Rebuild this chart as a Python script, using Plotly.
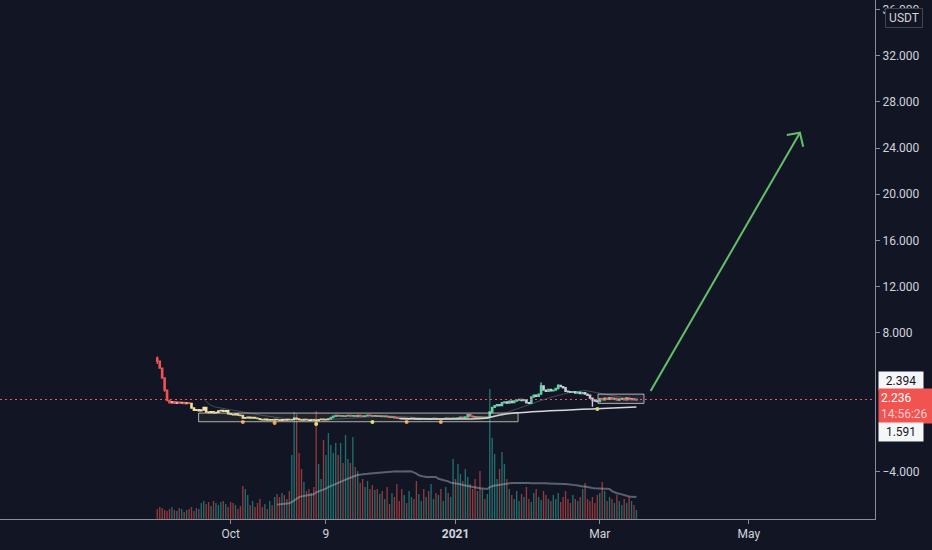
import pandas as pd
import plotly.graph_objects as go

# ---------------- data ----------------
start_date = "2020-09-01"
first_open = 5.80
close = [
    5.55, 4.95, 4.10, 3.05, 2.15, 1.95, 2.05, 1.90, 2.00, 1.92,
    1.98, 1.88, 1.95, 1.90, 1.50, 1.30, 1.35, 1.25, 1.32, 1.55,
    1.15, 1.10, 1.18, 1.08, 1.12, 1.25, 1.28, 1.22, 1.26, 1.00,
    0.95, 0.92, 0.98, 0.88, 0.85, 0.62, 0.66, 0.70, 0.64, 0.68,
    0.62, 0.58, 0.50, 0.48, 0.52, 0.46, 0.49, 0.45, 0.50, 0.47,
    0.44, 0.48, 0.46, 0.50, 0.47, 0.49, 0.62, 0.55, 0.48, 0.46,
    0.50, 0.47, 0.44, 0.48, 0.46, 0.42, 0.49, 0.52, 0.47, 0.50,
    0.55, 0.68, 0.78, 0.85, 0.80, 0.84, 0.78, 0.82, 0.86, 0.80,
    0.83, 0.79, 0.85, 0.81, 0.77, 0.82, 0.88, 0.84, 0.80, 0.83,
    0.78, 0.81, 0.76, 0.80, 0.74, 0.70, 0.72, 0.66, 0.62, 0.60,
    0.57, 0.60, 0.55, 0.58, 0.62, 0.56, 0.52, 0.55, 0.58, 0.54,
    0.57, 0.53, 0.56, 0.60, 0.55, 0.58, 0.54, 0.57, 0.61, 0.56,
    0.59, 0.62, 0.58, 0.64, 0.70, 0.66, 0.72, 0.92, 0.80, 0.74,
    0.70, 0.72, 0.68, 0.71, 0.66, 0.70, 1.15, 1.55, 1.70, 1.78,
    1.72, 1.95, 2.02, 1.92, 2.08, 1.98, 2.10, 2.18, 2.24, 2.15,
    2.22, 1.95, 1.90, 2.45, 2.60, 2.52, 2.70, 3.40, 3.05, 2.95,
    3.10, 2.98, 3.05, 3.20, 3.45, 3.35, 3.25, 2.95, 2.90, 2.85,
    2.92, 2.80, 2.86, 2.75, 2.82, 2.70, 2.60, 2.35, 2.20, 2.10,
    2.05, 2.30, 2.20, 2.35, 2.25, 2.40, 2.28, 2.32, 2.18, 2.26,
    2.30, 2.22, 2.36, 2.24, 2.30, 2.20, 2.236,
]
volume = [
    10, 12, 11, 9, 8, 10, 12, 9, 8, 11, 10, 7, 9, 10, 12, 8, 11, 10,
    16, 18, 15, 17, 13, 18, 16, 14, 17, 18, 15, 12, 17, 16, 14, 10, 13,
    33, 30, 24,
    14, 18, 12, 16, 20, 12, 15, 10, 18, 14, 22, 25,
    22, 26, 24, 20, 28, 64,
    107, 105, 66,
    50, 37, 28, 30, 26, 32, 108,
    55, 40, 79, 64, 86, 74, 66, 76, 64, 76, 56, 84, 60, 56, 82, 52, 48, 36, 40, 32, 38, 30, 34, 29,
    30, 25, 28, 20, 32, 15, 26, 22, 35, 18, 30, 24, 16, 28, 22, 20, 38, 25, 18, 30,
    22, 28, 35, 20, 26, 24, 30, 18, 32, 26, 22, 60,
    40, 55, 45, 38, 50, 42, 35, 30, 40, 28, 48, 30, 20, 25,
    130, 81, 65, 40, 50, 67, 55, 40,
    30, 24, 20, 28, 18, 25, 22, 32, 20, 17, 26, 30, 22, 19, 28, 24, 20,
    18, 24, 20, 26, 17, 22, 28, 20, 16, 24, 20, 18,
    22, 30, 36, 20, 18, 22,
    16, 24, 26, 37,
    28, 18, 22, 20, 16, 24, 18, 14, 20, 16, 22, 18, 14, 9,
]
# explicit wick extremes on a few days
wick_days = [0, 3, 157, 164, 178]
wick_highs = [5.95, 4.10, 3.70, 3.55, 2.35]
wick_lows = [5.30, 2.90, 3.00, 3.10, 1.60]

# drawn support curve
support_dates = ["2020-12-09", "2021-01-10", "2021-01-14", "2021-01-20", "2021-01-26", "2021-03-16"]
support_vals = [0.60, 0.56, 0.64, 0.92, 1.08, 1.59]

# small fractal dots
dot_dates = ["2020-10-06", "2020-10-19", "2020-11-05", "2020-11-28", "2020-12-12", "2020-12-26", "2021-02-28"]
dot_vals = [0.29, 0.20, 0.11, 0.29, 0.29, 0.29, 1.41]
dot_colors = ["#f0a040", "#f0a040", "#e8e070", "#e8e070", "#f0a040", "#f0a040", "#c8e070"]

# boxes and arrow drawing
base_box = ("2020-09-17 22:00", "2021-01-26 14:00", 0.31, 1.06)
right_box = ("2021-02-28 07:00", "2021-03-19 02:00", 1.90, 2.70)
arrow_start = ("2021-03-21 19:00", 2.97)
arrow_tip = ("2021-05-21 21:00", 25.33)
arrow_arm1 = ("2021-05-16 12:00", 25.13)
arrow_arm2 = ("2021-05-23 05:00", 24.12)

last_price = 2.236
x_tick_vals = ["2020-10-01", "2020-11-09", "2021-01-01", "2021-03-01", "2021-05-01"]
x_tick_text = ["Oct", "9", "<b>2021</b>", "Mar", "May"]
y_tick_vals = [-4, 8, 12, 16, 20, 24, 28, 32, 36]

# colour segments (start day indexes)
seg_bounds = [0, 14, 71, 136, 182, 197]
seg_inc = ["#f4a6a6", "#f6e6b0", "#5cc9a0", "#5fd3a8", "#7fd6b0"]
seg_dec = ["#ef5350", "#f3dfa0", "#e57373", "#c8ccd6", "#ef5350"]

# ---------------- build ----------------
dates = pd.date_range(start_date, periods=len(close), freq="D")
opens = [first_open] + close[:-1]
highs = [max(o, c) for o, c in zip(opens, close)]
lows = [min(o, c) for o, c in zip(opens, close)]
for d, h, l in zip(wick_days, wick_highs, wick_lows):
    highs[d] = max(highs[d], h)
    lows[d] = min(lows[d], l)

sma20 = pd.Series(close).rolling(20).mean()
vol_ma = pd.Series(volume).rolling(50).mean()
vol_colors = ["rgba(38,166,154,0.62)" if c >= o else "rgba(239,83,80,0.58)" for o, c in zip(opens, close)]

BG = "#121624"
AX = "#8a8d96"
TXT = "#d1d4dc"
FONT = "Roboto"

fig = go.Figure()

fig.add_trace(go.Bar(x=dates, y=volume, marker=dict(color=vol_colors, line=dict(width=0)),
                     width=0.55 * 86400000, yaxis="y", showlegend=False, hoverinfo="skip"))
fig.add_trace(go.Scatter(x=dates, y=vol_ma, mode="lines", yaxis="y",
                         line=dict(color="rgba(175,188,205,0.45)", width=2), showlegend=False, hoverinfo="skip"))

for i in range(len(seg_inc)):
    a, b = seg_bounds[i], seg_bounds[i + 1]
    fig.add_trace(go.Candlestick(
        x=dates[a:b], open=opens[a:b], high=highs[a:b], low=lows[a:b], close=close[a:b],
        yaxis="y2", showlegend=False, whiskerwidth=0,
        increasing=dict(line=dict(color=seg_inc[i], width=1.4), fillcolor=seg_inc[i]),
        decreasing=dict(line=dict(color=seg_dec[i], width=1.4), fillcolor=seg_dec[i]),
        hoverinfo="skip"))

fig.add_trace(go.Scatter(x=dates, y=sma20, mode="lines", yaxis="y2",
                         line=dict(color="rgba(160,170,190,0.35)", width=1), showlegend=False, hoverinfo="skip"))
fig.add_trace(go.Scatter(x=support_dates, y=support_vals, mode="lines", yaxis="y2",
                         line=dict(color="rgba(235,236,240,0.9)", width=1.5, shape="spline"),
                         showlegend=False, hoverinfo="skip"))
fig.add_trace(go.Scatter(x=dot_dates, y=dot_vals, mode="markers", yaxis="y2",
                         marker=dict(color=dot_colors, size=4), showlegend=False, hoverinfo="skip"))
fig.add_trace(go.Scatter(
    x=[arrow_start[0], arrow_tip[0], None, arrow_arm1[0], arrow_tip[0], arrow_arm2[0]],
    y=[arrow_start[1], arrow_tip[1], None, arrow_arm1[1], arrow_tip[1], arrow_arm2[1]],
    mode="lines", yaxis="y2", line=dict(color="#63c06a", width=2), showlegend=False, hoverinfo="skip"))

shapes = []
for bx, lc, fc in [(base_box, "rgba(215,215,200,0.8)", "rgba(150,150,110,0.10)"),
                   (right_box, "rgba(215,215,215,0.8)", "rgba(150,150,150,0.12)")]:
    shapes.append(dict(type="rect", xref="x", yref="y2", x0=bx[0], x1=bx[1], y0=bx[2], y1=bx[3],
                       line=dict(color=lc, width=1), fillcolor=fc))
shapes.append(dict(type="line", xref="paper", yref="y2", x0=0, x1=1, y0=last_price, y1=last_price,
                   line=dict(color="#f7525f", width=1.2, dash="2px,3px")))

H = 519.0
annotations = [
    dict(xref="paper", yref="paper", x=1, y=1 - 18 / H, xanchor="left", yanchor="middle", xshift=10,
         text="USDT", showarrow=False, bgcolor=BG, bordercolor="#434651", borderwidth=1, borderpad=2,
         width=32, font=dict(color=TXT, size=12, family=FONT)),
    dict(xref="paper", yref="paper", x=1, y=1 - 380.7 / H, xanchor="left", yanchor="middle", xshift=3,
         text="2.394", showarrow=False, bgcolor="#f5f6f8", borderpad=2, width=40,
         font=dict(color="#131722", size=12, family=FONT)),
    dict(xref="paper", yref="paper", x=1, y=1 - 405.5 / H, xanchor="left", yanchor="middle", xshift=3,
         text="2.236<br><span style='color:rgba(255,255,255,0.72)'>14:56:26</span>", align="left",
         showarrow=False, bgcolor="#f05350", borderpad=2, width=52,
         font=dict(color="#ffffff", size=12, family=FONT)),
    dict(xref="paper", yref="paper", x=1, y=1 - 431.7 / H, xanchor="left", yanchor="middle", xshift=3,
         text="1.591", showarrow=False, bgcolor="#f5f6f8", borderpad=2, width=40,
         font=dict(color="#131722", size=12, family=FONT)),
]

fig.update_layout(
    width=932, height=550,
    margin=dict(l=0, r=57, t=0, b=31),
    paper_bgcolor=BG, plot_bgcolor=BG,
    font=dict(family=FONT, color=TXT, size=12),
    showlegend=False,
    shapes=shapes, annotations=annotations,
    xaxis=dict(type="date", range=["2020-06-28 16:00", "2021-06-21 14:00"],
               showgrid=False, zeroline=False, showline=True, linecolor=AX, linewidth=1,
               ticks="outside", ticklen=4, tickcolor=AX,
               tickvals=x_tick_vals, ticktext=x_tick_text,
               tickfont=dict(color=TXT, size=12, family=FONT),
               rangeslider=dict(visible=False), automargin=False),
    yaxis=dict(range=[0, H], visible=False, fixedrange=True),
    yaxis2=dict(overlaying="y", side="right", range=[-8.11, 36.82],
                showgrid=False, zeroline=False, showline=True, linecolor=AX, linewidth=1,
                ticks="outside", ticklen=4, tickcolor=AX,
                tickvals=y_tick_vals, tickformat=".3f",
                tickfont=dict(color=TXT, size=12, family=FONT), automargin=False),
)

fig.write_html("out.html", config={"displayModeBar": False},
               post_script="document.body.style.margin='0';document.body.style.overflow='hidden';"
                           "document.body.style.background='" + BG + "';")
